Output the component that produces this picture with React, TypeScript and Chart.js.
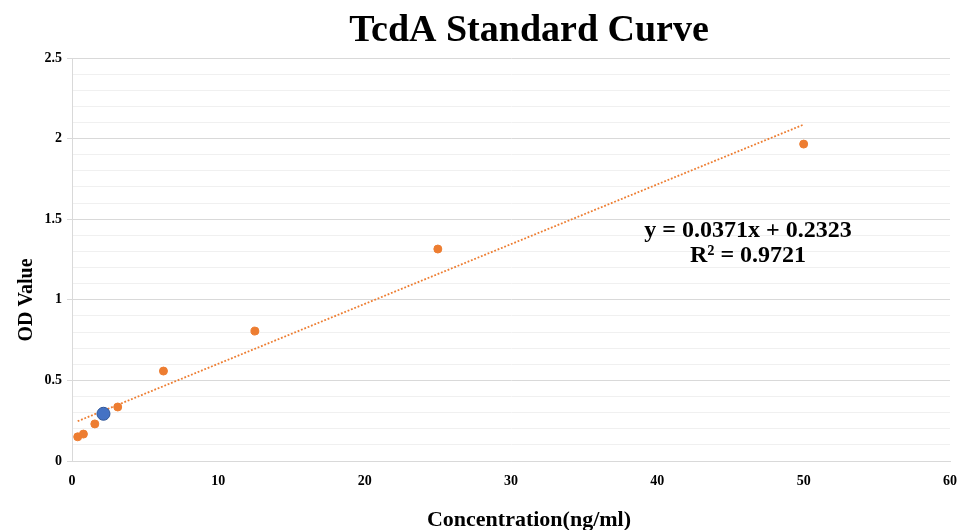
import React, { useEffect, useRef } from "react";
import { Chart, registerables } from "chart.js";

Chart.register(...registerables);

const standardConc = [0.39, 0.78, 1.56, 3.125, 6.25, 12.5, 25, 50];
const standardOD = [0.15, 0.167, 0.23, 0.335, 0.558, 0.806, 1.315, 1.966];
const sampleConc = [2.15];
const sampleOD = [0.293];
const trendX = [0.39, 50];
const trendY = [0.247, 2.087];
const xTicks = [0, 10, 20, 30, 40, 50, 60];
const yMajorTicks = [0, 0.5, 1, 1.5, 2, 2.5];

const titleText = "TcdA Standard Curve";
const xTitle = "Concentration(ng/ml)";
const yTitle = "OD Value";
const eqLine1 = "y = 0.0371x + 0.2323";
const eqLine2 = "R² = 0.9721";

const SERIF = "'Liberation Serif', 'Times New Roman', serif";

const textPlugin = {
  id: "textPlugin",
  afterDraw(chart: any) {
    const ctx = chart.ctx;
    ctx.save();
    ctx.fillStyle = "#000";
    ctx.textAlign = "center";
    ctx.textBaseline = "alphabetic";
    ctx.font = `bold 38px ${SERIF}`;
    ctx.fillText(titleText, 529, 41);
    ctx.font = `bold 22px ${SERIF}`;
    ctx.fillText(xTitle, 529, 526);
    ctx.font = `bold 24px ${SERIF}`;
    ctx.fillText(eqLine1, 748, 237);
    ctx.fillText(eqLine2, 748, 262);
    ctx.translate(32, 300);
    ctx.rotate(-Math.PI / 2);
    ctx.font = `bold 20px ${SERIF}`;
    ctx.fillText(yTitle, 0, 0);
    ctx.restore();
  },
};

export default function App() {
  const ref = useRef<HTMLCanvasElement | null>(null);
  useEffect(() => {
    if (!ref.current) return;
    const isMajor = (v: number) => yMajorTicks.some((m) => Math.abs(m - v) < 1e-6);
    const chart = new Chart(ref.current, {
      type: "scatter",
      data: {
        datasets: [
          {
            label: "Sample",
            data: sampleConc.map((x, i) => ({ x, y: sampleOD[i] })),
            backgroundColor: "#4472C4",
            borderColor: "#2F5597",
            borderWidth: 1,
            pointRadius: 6.5,
            order: 0,
          },
          {
            label: "Standard",
            data: standardConc.map((x, i) => ({ x, y: standardOD[i] })),
            backgroundColor: "#ED7D31",
            borderColor: "#ED7D31",
            pointRadius: 4,
            order: 1,
          },
          {
            type: "line",
            label: "Trend",
            data: trendX.map((x, i) => ({ x, y: trendY[i] })),
            borderColor: "#ED7D31",
            borderWidth: 1.8,
            borderDash: [1.8, 1.8],
            pointRadius: 0,
            fill: false,
            order: 2,
          } as any,
        ],
      },
      options: {
        animation: false,
        responsive: false,
        maintainAspectRatio: false,
        layout: { padding: { left: 0, right: 20, top: 58, bottom: 0 } },
        plugins: { legend: { display: false }, tooltip: { enabled: false }, title: { display: false } },
        scales: {
          x: {
            type: "linear",
            min: 0,
            max: 60,
            afterFit(scale: any) {
              scale.height = 69;
            },
            afterBuildTicks(scale: any) {
              scale.ticks = xTicks.map((v) => ({ value: v }));
            },
            grid: { display: false, drawTicks: false },
            border: { display: true, color: "#d9d9d9" },
            ticks: {
              padding: 12,
              color: "#000",
              font: { family: SERIF, size: 14, weight: "bold" },
              maxRotation: 0,
            },
          },
          y: {
            type: "linear",
            min: 0,
            max: 2.5,
            afterFit(scale: any) {
              scale.width = 72;
            },
            ticks: {
              stepSize: 0.1,
              autoSkip: false,
              padding: 5,
              color: "#000",
              font: { family: SERIF, size: 14, weight: "bold" },
              callback: (v: any) => (isMajor(Number(v)) ? String(Math.round(Number(v) * 10) / 10) : ""),
            },
            grid: {
              color: (c: any) => (isMajor(c.tick?.value ?? 0) ? "#d9d9d9" : "#f0f0f0"),
              tickColor: (c: any) => (isMajor(c.tick?.value ?? 0) ? "#d9d9d9" : "rgba(0,0,0,0)"),
              tickLength: 5,
              lineWidth: 1,
            },
            border: { display: true, color: "#d9d9d9" },
          },
        },
      } as any,
      plugins: [textPlugin],
    });
    return () => chart.destroy();
  }, []);
  return (
    <div style={{ position: "fixed", left: 0, top: 0, width: 970, height: 530, background: "#fff" }}>
      <canvas ref={ref} width={970} height={530} style={{ width: 970, height: 530 }} />
    </div>
  );
}
